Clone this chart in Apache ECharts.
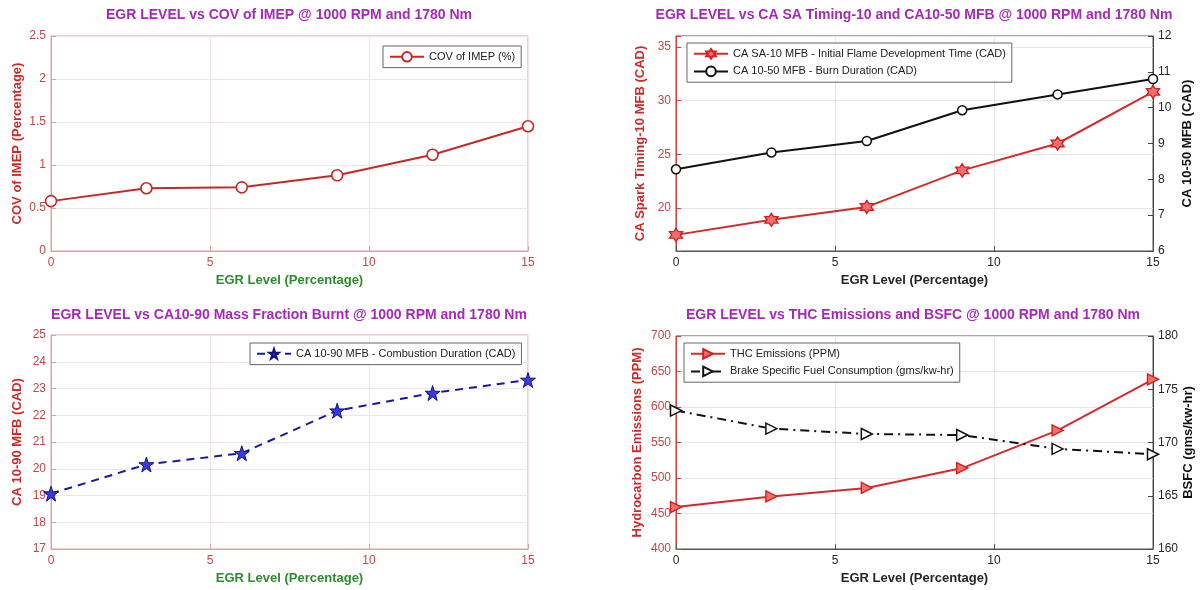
<!DOCTYPE html>
<html><head><meta charset="utf-8">
<script src="https://cdn.jsdelivr.net/npm/echarts@6/dist/echarts.min.js"></script>
<style>html,body{margin:0;padding:0;background:#fff}#c{width:1200px;height:590px}</style>
</head><body><div id="c"></div>
<script>
// ---- data ----
const egr = [0, 3, 6, 9, 12, 15];
const covImep = [0.58, 0.73, 0.74, 0.88, 1.12, 1.45];
const saTo10 = [17.5, 18.9, 20.1, 23.5, 26.0, 30.8];
const ca1050 = [8.28, 8.75, 9.07, 9.93, 10.37, 10.8];
const ca1090 = [19.07, 20.16, 20.58, 22.17, 22.83, 23.32];
const thc = [459, 474, 486, 514, 567, 639];
const bsfc = [173.0, 171.3, 170.8, 170.7, 169.4, 168.9];

const titles = [
  'EGR LEVEL vs COV of IMEP @ 1000 RPM and 1780 Nm',
  'EGR LEVEL vs CA SA Timing-10 and CA10-50 MFB @ 1000 RPM and 1780 Nm',
  'EGR LEVEL vs CA10-90 Mass Fraction Burnt @ 1000 RPM and 1780 Nm',
  'EGR LEVEL vs THC Emissions and BSFC @ 1000 RPM and 1780 Nm'
];
const xName = 'EGR Level (Percentage)';
const names = {
  cov: 'COV of IMEP (%)',
  sa: 'CA SA-10 MFB - Initial Flame Development Time (CAD)',
  burn: 'CA 10-50 MFB - Burn Duration (CAD)',
  comb: 'CA 10-90 MFB - Combustion Duration (CAD)',
  thc: 'THC Emissions (PPM)',
  bsfc: 'Brake Specific Fuel Consumption (gms/kw-hr)'
};
const yNames = ['COV of IMEP (Percentage)', 'CA Spark Timing-10 MFB (CAD)', 'CA 10-50 MFB (CAD)',
  'CA 10-90 MFB (CAD)', 'Hydrocarbon Emissions (PPM)', 'BSFC (gms/kw-hr)'];

const pairs = arr => egr.map((x, i) => [x, arr[i]]);

// ---- styles ----
const FONT = '"Liberation Sans", Arial, sans-serif';
const PURPLE = '#a52ab8';
const RED_AX = '#d9a3a3';
const RED_LBL = '#c04848';
const RED_NAME = '#cc2a2a';
const GREEN = '#2e8b2e';
const PINK_GRID = '#f3e3e3';
const GRAY_GRID = '#e6e6e6';
const DARK = '#262626';

const hexagram = 'path://M0,-10 L2.89,-5 L8.66,-5 L5.77,0 L8.66,5 L2.89,5 L0,10 L-2.89,5 L-8.66,5 L-5.77,0 L-8.66,-5 L-2.89,-5 Z';
const star5 = 'path://M0,-10 L2.245,-3.09 L9.51,-3.09 L3.633,1.18 L5.88,8.09 L0,3.82 L-5.88,8.09 L-3.633,1.18 L-9.51,-3.09 L-2.245,-3.09 Z';

const grids = [
  {left: 51, top: 36, width: 477, height: 215, show: true, borderColor: RED_AX, borderWidth: 1},
  {left: 676, top: 36, width: 477, height: 215, show: true, borderColor: '#555', borderWidth: 1},
  {left: 51, top: 335, width: 477, height: 214, show: true, borderColor: RED_AX, borderWidth: 1},
  {left: 676, top: 336, width: 477, height: 213, show: true, borderColor: '#555', borderWidth: 1}
];

function xAxis(gi, redTheme) {
  return {
    type: 'value', gridIndex: gi, min: 0, max: 15, interval: 5,
    name: xName, nameLocation: 'middle', nameGap: 23,
    nameTextStyle: {fontFamily: FONT, fontSize: 13, fontWeight: 'bold', color: redTheme ? GREEN : DARK},
    axisLine: {show: true, lineStyle: {color: redTheme ? RED_AX : '#555'}},
    axisTick: {show: true, inside: true, length: 5, lineStyle: {color: redTheme ? RED_AX : '#555'}},
    axisLabel: {fontFamily: FONT, fontSize: 12, color: redTheme ? RED_LBL : DARK, margin: 6},
    splitLine: {show: true, lineStyle: {color: redTheme ? PINK_GRID : GRAY_GRID}}
  };
}
function yAxis(gi, opts) {
  const left = opts.position !== 'right';
  const lblColor = opts.black ? DARK : RED_LBL;
  const lineColor = opts.black ? '#444' : (opts.lineColor || RED_AX);
  const a = {
    type: 'value', gridIndex: gi, min: opts.min, max: opts.max, position: left ? 'left' : 'right',
    name: opts.name, nameLocation: 'middle', nameGap: opts.gap,
    nameTextStyle: {fontFamily: FONT, fontSize: 13, fontWeight: 'bold', color: opts.black ? '#111' : RED_NAME},
    axisLine: {show: true, lineStyle: {color: lineColor}},
    axisTick: {show: true, inside: true, length: 5, lineStyle: {color: lineColor}},
    axisLabel: {fontFamily: FONT, fontSize: 12, color: lblColor, margin: 5},
    splitLine: {show: opts.split !== false, lineStyle: {color: opts.gridColor || PINK_GRID}}
  };
  if (opts.interval != null) a.interval = opts.interval;
  if (opts.splitNumber != null) a.splitNumber = opts.splitNumber;
  if (opts.formatter) a.axisLabel.formatter = opts.formatter;
  return a;
}

const legendBase = {
  orient: 'vertical', selectedMode: false, backgroundColor: '#fff',
  borderColor: '#666', borderWidth: 1, padding: [5, 6], itemGap: 6,
  itemWidth: 34, itemHeight: 12,
  textStyle: {fontFamily: FONT, fontSize: 11, color: '#222'}
};

const option = {
  animation: false,
  backgroundColor: '#fff',
  textStyle: {fontFamily: FONT},
  title: [
    {text: titles[0], left: 289, top: 8, textAlign: 'center'},
    {text: titles[1], left: 914, top: 8, textAlign: 'center'},
    {text: titles[2], left: 289, top: 308, textAlign: 'center'},
    {text: titles[3], left: 913, top: 308, textAlign: 'center'}
  ].map(t => Object.assign(t, {padding: 0, textStyle: {fontFamily: FONT, fontSize: 14, fontWeight: 'bold', color: PURPLE}})),
  grid: grids,
  legend: [
    Object.assign({}, legendBase, {left: 383, top: 46, data: [names.cov]}),
    Object.assign({}, legendBase, {left: 687, top: 43, data: [names.sa, names.burn]}),
    Object.assign({}, legendBase, {left: 250, top: 343, data: [names.comb]}),
    Object.assign({}, legendBase, {left: 684, top: 343, data: [names.thc, names.bsfc]})
  ],
  xAxis: [xAxis(0, true), xAxis(1, false), xAxis(2, true), xAxis(3, false)],
  yAxis: [
    yAxis(0, {min: 0, max: 2.5, interval: 0.5, name: yNames[0], gap: 27}),
    yAxis(1, {min: 16, max: 36, splitNumber: 4, name: yNames[1], gap: 29, lineColor: '#cc4444', gridColor: GRAY_GRID,
      formatter: v => (v % 5 === 0 ? String(v) : '')}),
    yAxis(1, {min: 6, max: 12, interval: 1, name: yNames[2], gap: 28, position: 'right', black: true, split: false}),
    yAxis(2, {min: 17, max: 25, interval: 1, name: yNames[3], gap: 27}),
    yAxis(3, {min: 400, max: 700, interval: 50, name: yNames[4], gap: 32, lineColor: '#cc4444', gridColor: GRAY_GRID}),
    yAxis(3, {min: 160, max: 180, interval: 5, name: yNames[5], gap: 28, position: 'right', black: true, split: false})
  ],
  series: [
    {name: names.cov, type: 'line', xAxisIndex: 0, yAxisIndex: 0, data: pairs(covImep),
      symbol: 'circle', symbolSize: 11, showAllSymbol: true,
      lineStyle: {color: '#c62828', width: 2},
      itemStyle: {color: '#fff', borderColor: '#c62828', borderWidth: 1.6}},
    {name: names.sa, type: 'line', xAxisIndex: 1, yAxisIndex: 1, data: pairs(saTo10),
      symbol: hexagram, symbolSize: 13,
      lineStyle: {color: '#d42a2a', width: 2},
      itemStyle: {color: '#f07070', borderColor: '#d42020', borderWidth: 1.4}},
    {name: names.burn, type: 'line', xAxisIndex: 1, yAxisIndex: 2, data: pairs(ca1050),
      symbol: 'circle', symbolSize: 9,
      lineStyle: {color: '#111', width: 2},
      itemStyle: {color: '#fff', borderColor: '#111', borderWidth: 1.5}},
    {name: names.comb, type: 'line', xAxisIndex: 2, yAxisIndex: 3, data: pairs(ca1090),
      symbol: star5, symbolSize: 15,
      lineStyle: {color: '#1a1aa0', width: 2, type: [8, 6]},
      itemStyle: {color: '#3a3ad8', borderColor: '#10108a', borderWidth: 1}},
    {name: names.thc, type: 'line', xAxisIndex: 3, yAxisIndex: 4, data: pairs(thc),
      symbol: 'triangle', symbolRotate: -90, symbolSize: 11,
      lineStyle: {color: '#d42a2a', width: 2},
      itemStyle: {color: '#f07070', borderColor: '#d42020', borderWidth: 1.4}},
    {name: names.bsfc, type: 'line', xAxisIndex: 3, yAxisIndex: 5, data: pairs(bsfc),
      symbol: 'triangle', symbolRotate: -90, symbolSize: 11,
      lineStyle: {color: '#111', width: 2, type: [9, 5, 2, 5]},
      itemStyle: {color: '#fff', borderColor: '#111', borderWidth: 1.5}}
  ]
};

const chart = echarts.init(document.getElementById('c'), null, {renderer: 'canvas'});
chart.setOption(option);
</script>
</body></html>
